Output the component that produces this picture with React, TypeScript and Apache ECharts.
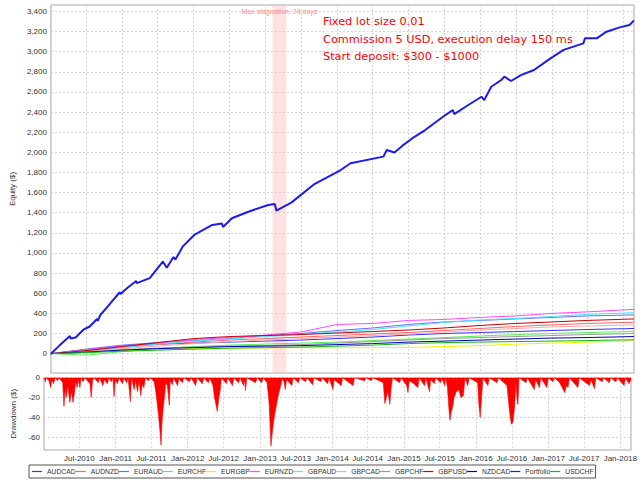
import React, { useEffect, useRef } from "react";
import * as echarts from "echarts";

// ---- data ----
const pairNames = [
  "AUDCAD", "AUDNZD", "EURAUD", "EURCHF", "EURGBP", "EURNZD", "GBPAUD",
  "GBPCAD", "GBPCHF", "GBPUSD", "NZDCAD", "Portfolio", "USDCHF",
];

const sampleDates = [
  "2010-01-03", "2010-07-01", "2011-01-01", "2011-07-01", "2012-01-01", "2012-07-01",
  "2013-01-01", "2013-07-01", "2014-01-01", "2014-07-01", "2015-01-01", "2015-07-01",
  "2016-01-01", "2016-07-01", "2017-01-01", "2017-07-01", "2018-02-24",
];

const audcad = [0, 40, 75, 95, 105, 115, 125, 135, 150, 165, 185, 200, 210, 220, 230, 240, 250];
const audnzd = [0, 35, 60, 90, 115, 135, 150, 165, 180, 195, 210, 230, 250, 270, 285, 300, 312];
const euraud = [0, 45, 85, 110, 130, 150, 180, 200, 230, 255, 290, 315, 330, 345, 360, 375, 385];
const eurchf = [0, -15, 20, 50, 70, 85, 95, 105, 115, 130, 145, 160, 175, 190, 200, 210, 220];
const eurgbp = [0, 15, 30, 40, 50, 55, 58, 60, 60, 60, 62, 70, 80, 95, 105, 115, 128];
const eurnzd = [0, 40, 75, 105, 140, 160, 185, 215, 290, 300, 330, 340, 360, 375, 400, 415, 440];
const gbpaud = [0, 30, 60, 95, 125, 145, 170, 190, 215, 240, 275, 310, 335, 350, 370, 390, 407];
const gbpcad = [0, 25, 50, 75, 100, 120, 135, 150, 165, 180, 195, 215, 235, 250, 265, 275, 285];
const gbpchf = [0, 20, 40, 55, 65, 75, 80, 90, 105, 120, 135, 150, 160, 170, 180, 190, 200];
const gbpusd = [0, 30, 70, 110, 150, 170, 180, 190, 205, 220, 235, 255, 280, 300, 315, 330, 345];
const nzdcad = [0, 15, 35, 50, 60, 70, 75, 80, 90, 100, 115, 125, 135, 145, 155, 160, 170];
const usdchf = [0, 10, 25, 35, 45, 55, 60, 65, 75, 85, 100, 110, 115, 120, 125, 130, 138];

const portfolio: [string, number][] = [
  ["2010-01-03", 0], ["2010-02-15", 80], ["2010-04-10", 175], ["2010-04-14", 150], ["2010-05-09", 160],
  ["2010-06-20", 242], ["2010-07-20", 270], ["2010-08-26", 345], ["2010-08-30", 326], ["2010-09-12", 384],
  ["2010-10-20", 470], ["2010-12-20", 610], ["2010-12-24", 592], ["2011-02-01", 660],
  ["2011-03-14", 722], ["2011-03-17", 700], ["2011-05-22", 750],
  ["2011-07-28", 914], ["2011-08-17", 854], ["2011-09-20", 960], ["2011-09-30", 935], ["2011-11-06", 1063],
  ["2012-01-04", 1179], ["2012-04-05", 1278], ["2012-05-24", 1292], ["2012-05-30", 1258], ["2012-07-14", 1345],
  ["2012-10-06", 1410], ["2013-01-15", 1477], ["2013-02-18", 1487], ["2013-02-26", 1420],
  ["2013-05-13", 1500], ["2013-09-08", 1685], ["2014-01-20", 1824], ["2014-03-11", 1891],
  ["2014-08-26", 1957], ["2014-09-12", 2023], ["2014-10-21", 1998], ["2014-12-01", 2066],
  ["2015-01-21", 2140], ["2015-03-27", 2221], ["2015-07-08", 2370], ["2015-08-15", 2420], ["2015-08-22", 2380],
  ["2015-11-02", 2470], ["2016-01-08", 2552], ["2016-01-22", 2519], ["2016-02-27", 2651],
  ["2016-04-18", 2718], ["2016-05-04", 2751], ["2016-06-07", 2708], ["2016-07-27", 2767],
  ["2016-10-02", 2817], ["2016-12-25", 2933], ["2017-03-02", 3017], ["2017-06-11", 3082],
  ["2017-06-19", 3132], ["2017-08-18", 3132], ["2017-10-07", 3198], ["2017-12-13", 3241],
  ["2018-02-01", 3264], ["2018-02-24", 3310],
];

const drawdown: [string, number][] = [
  ["2010-01-03", 0], ["2010-01-10", -4], ["2010-01-14", 0], ["2010-01-28", -3], ["2010-02-06", -10],
  ["2010-02-12", -2], ["2010-02-20", -6], ["2010-03-01", 0], ["2010-03-12", -3], ["2010-03-20", 0],
  ["2010-04-08", -5], ["2010-04-14", -29], ["2010-04-20", -12], ["2010-04-26", -20], ["2010-05-04", -8],
  ["2010-05-14", -25], ["2010-05-22", -14], ["2010-05-30", -25], ["2010-06-06", -16], ["2010-06-12", -4],
  ["2010-06-20", -10], ["2010-06-26", -2], ["2010-07-04", -10], ["2010-07-10", 0],
  ["2010-07-20", -4], ["2010-07-28", 0], ["2010-08-24", -6], ["2010-08-30", -20], ["2010-09-06", -3],
  ["2010-09-14", 0], ["2010-10-05", -5], ["2010-10-12", 0], ["2010-10-28", -8], ["2010-11-05", -2],
  ["2010-11-20", -6], ["2010-11-28", 0], ["2010-12-10", -4], ["2010-12-18", 0], ["2010-12-24", -19],
  ["2010-12-30", -2], ["2011-01-10", -6], ["2011-01-18", 0], ["2011-02-05", -6], ["2011-02-12", 0],
  ["2011-02-25", -5], ["2011-03-05", 0], ["2011-03-17", -24], ["2011-03-22", 0],
  ["2011-04-05", -12], ["2011-04-12", -3], ["2011-04-22", -14], ["2011-04-30", -2], ["2011-05-08", -18],
  ["2011-05-16", -6], ["2011-05-24", -10], ["2011-06-01", 0], ["2011-06-15", -3], ["2011-06-25", 0],
  ["2011-07-15", -4], ["2011-07-22", -12], ["2011-07-30", -25], ["2011-08-07", -40], ["2011-08-14", -55],
  ["2011-08-19", -68], ["2011-08-24", -45], ["2011-08-30", -30], ["2011-09-06", -18], ["2011-09-12", -5],
  ["2011-09-20", -8], ["2011-09-30", -28], ["2011-10-04", -3], ["2011-10-15", -7], ["2011-10-22", 0],
  ["2011-11-10", -8], ["2011-11-18", -1], ["2011-12-05", -5], ["2011-12-12", 0],
  ["2012-01-10", -4], ["2012-01-18", 0], ["2012-02-10", -8], ["2012-02-18", 0], ["2012-03-15", -6],
  ["2012-03-22", 0], ["2012-04-15", -5], ["2012-04-22", 0], ["2012-05-08", -8], ["2012-05-16", -20],
  ["2012-05-24", -28], ["2012-05-30", -34], ["2012-06-06", -22], ["2012-06-14", -12], ["2012-06-20", 0],
  ["2012-07-15", -6], ["2012-07-22", 0], ["2012-08-15", -8], ["2012-08-22", 0], ["2012-09-15", -5],
  ["2012-09-22", 0], ["2012-10-10", -8], ["2012-10-15", -2], ["2012-10-20", -13], ["2012-10-26", 0],
  ["2012-12-10", -5], ["2012-12-18", 0], ["2013-01-10", -5], ["2013-01-18", 0],
  ["2013-02-06", -5], ["2013-02-14", -20], ["2013-02-18", -30], ["2013-02-22", -52], ["2013-02-26", -69],
  ["2013-03-02", -60], ["2013-03-08", -50], ["2013-03-16", -38], ["2013-03-28", -25], ["2013-04-06", -16],
  ["2013-04-14", -10], ["2013-04-26", 0], ["2013-05-05", -6], ["2013-05-09", -12], ["2013-05-16", -2],
  ["2013-06-12", -8], ["2013-06-18", 0], ["2013-07-15", -5], ["2013-07-22", 0], ["2013-08-20", -4],
  ["2013-08-27", 0], ["2013-09-25", -7], ["2013-10-02", 0], ["2013-11-05", -4], ["2013-11-12", 0],
  ["2013-12-10", -6], ["2013-12-17", 0], ["2014-01-06", -12], ["2014-01-12", -2], ["2014-02-17", -8],
  ["2014-02-24", 0], ["2014-04-18", -8], ["2014-04-25", 0], ["2014-06-15", -3], ["2014-06-22", 0],
  ["2014-07-20", -3], ["2014-07-27", 0], ["2014-09-18", -5], ["2014-09-26", -26], ["2014-10-04", -20],
  ["2014-10-12", -14], ["2014-10-21", -27], ["2014-10-28", -10], ["2014-11-04", 0],
  ["2014-12-10", -5], ["2014-12-17", 0], ["2015-01-15", -8], ["2015-01-21", -15], ["2015-01-28", -3],
  ["2015-02-20", -6], ["2015-03-12", -10], ["2015-03-19", 0], ["2015-04-15", -8], ["2015-04-22", 0],
  ["2015-05-10", -14], ["2015-05-16", -2], ["2015-06-04", -6], ["2015-06-10", 0], ["2015-07-05", -5],
  ["2015-07-12", 0], ["2015-07-25", -8], ["2015-08-01", 0], ["2015-08-09", -10], ["2015-08-16", -30],
  ["2015-08-22", -43], ["2015-08-28", -35], ["2015-09-04", -30], ["2015-09-12", -20], ["2015-09-21", -15],
  ["2015-10-05", -12], ["2015-10-17", -20], ["2015-10-29", -18], ["2015-11-06", 0], ["2015-11-20", -8],
  ["2015-11-27", 0], ["2016-01-09", -5], ["2016-01-16", -28], ["2016-01-22", -40], ["2016-01-29", -20],
  ["2016-02-05", 0], ["2016-03-01", -8], ["2016-03-08", 0], ["2016-04-16", -5], ["2016-04-23", 0],
  ["2016-06-06", -8], ["2016-06-14", -25], ["2016-06-21", -38], ["2016-06-28", -47], ["2016-07-06", -45],
  ["2016-07-14", -30], ["2016-07-21", -5], ["2016-07-26", -20], ["2016-07-31", -27], ["2016-08-06", 0],
  ["2016-09-10", -5], ["2016-09-17", 0], ["2016-10-22", -12], ["2016-10-29", -2], ["2016-11-17", -10],
  ["2016-11-24", 0], ["2016-12-25", -10], ["2017-01-01", 0], ["2017-01-25", -4], ["2017-02-01", 0],
  ["2017-02-28", -5], ["2017-03-10", -9], ["2017-03-25", -15], ["2017-04-03", -8], ["2017-04-11", -10],
  ["2017-04-18", 0], ["2017-05-31", -10], ["2017-06-07", 0], ["2017-07-29", -8], ["2017-08-05", -2],
  ["2017-08-23", -11], ["2017-08-30", 0], ["2017-10-01", -4], ["2017-10-08", 0], ["2017-11-06", -5],
  ["2017-11-13", 0], ["2017-12-10", -4], ["2017-12-17", 0], ["2018-01-20", -8], ["2018-01-27", 0],
  ["2018-02-14", -6], ["2018-02-24", -2],
];

const stagnation = ["2013-02-06", "2013-04-18"];
const stagnationLabel = "Max stagnation: 74 days";
const annotationLines = [
  "Fixed lot size 0.01",
  "Commission 5 USD, execution delay 150 ms",
  "Start deposit: $300 - $1000",
];
const xRange = ["2010-01-03", "2018-02-24"];
const MONTHS = ["Jan", "Feb", "Mar", "Apr", "May", "Jun", "Jul", "Aug", "Sep", "Oct", "Nov", "Dec"];

// ---- styles ----
const pairColors: Record<string, string> = {
  AUDCAD: "#3434ff", AUDNZD: "#ff6464", EURAUD: "#6a6aff", EURCHF: "#55ee55",
  EURGBP: "#f4f400", EURNZD: "#ff48ff", GBPAUD: "#48e8ff", GBPCAD: "#ffa8a8",
  GBPCHF: "#999999", GBPUSD: "#c80000", NZDCAD: "#0000b4", Portfolio: "#1c1cee",
  USDCHF: "#14b814",
};
const pairValues: Record<string, number[]> = {
  AUDCAD: audcad, AUDNZD: audnzd, EURAUD: euraud, EURCHF: eurchf, EURGBP: eurgbp,
  EURNZD: eurnzd, GBPAUD: gbpaud, GBPCAD: gbpcad, GBPCHF: gbpchf, GBPUSD: gbpusd,
  NZDCAD: nzdcad, USDCHF: usdchf,
};

const gridLine = { lineStyle: { color: "#d4d4d4", type: [2, 2] as number[], width: 1 } };
const labelFont = { fontFamily: "Liberation Sans, Arial, sans-serif", color: "#333" };

function fmtDate(v: number) {
  const d = new Date(v);
  const m = d.getMonth();
  if (d.getDate() !== 1 || (m !== 0 && m !== 6)) return "";
  return MONTHS[m] + "-" + d.getFullYear();
}

export default function App() {
  const ref = useRef<HTMLDivElement>(null);
  useEffect(() => {
    document.body.style.margin = "0";
    if (!ref.current) return;
    const chart = echarts.init(ref.current, null, { renderer: "svg" });

    const pairSeries = pairNames
      .filter((n) => n !== "Portfolio")
      .map((name, i) => ({
        name,
        type: "line",
        xAxisIndex: 0,
        yAxisIndex: 0,
        symbol: "none",
        z: 3,
        lineStyle: { width: 1, color: pairColors[name] },
        itemStyle: { color: pairColors[name] },
        data: sampleDates.map((d, k) => [d, pairValues[name][k]]),
        ...(i === 0
          ? {
              markArea: {
                silent: true,
                itemStyle: { color: "rgba(255,190,190,0.45)" },
                label: {
                  show: true,
                  position: "insideTop",
                  distance: 3,
                  formatter: stagnationLabel,
                  fontSize: 7,
                  color: "#ff8c8c",
                  fontFamily: "Liberation Sans, Arial, sans-serif",
                },
                data: [[{ xAxis: stagnation[0] }, { xAxis: stagnation[1] }]],
              },
            }
          : {}),
      }));

    const option: any = {
      animation: false,
      backgroundColor: "#ffffff",
      grid: [
        { left: 44, right: 6, top: 5, height: 368, show: true, borderColor: "#a8a8a8", borderWidth: 1, backgroundColor: "transparent" },
        { left: 44, right: 6, top: 377.7, height: 72.3, show: true, borderColor: "#a8a8a8", borderWidth: 1, backgroundColor: "transparent" },
      ],
      xAxis: [
        {
          type: "time", gridIndex: 0, min: xRange[0], max: xRange[1],
          minInterval: 86400000 * 182.5, maxInterval: 86400000 * 182.5,
          axisLine: { show: false }, axisTick: { show: false }, axisLabel: { show: false },
          splitLine: { show: true, ...gridLine },
        },
        {
          type: "time", gridIndex: 1, min: xRange[0], max: xRange[1],
          minInterval: 86400000 * 182.5, maxInterval: 86400000 * 182.5,
          axisLine: { show: false }, axisTick: { show: false },
          axisLabel: { show: true, formatter: fmtDate, fontSize: 8, margin: 4, hideOverlap: false, ...labelFont },
          splitLine: { show: true, ...gridLine },
        },
      ],
      yAxis: [
        {
          type: "value", gridIndex: 0, min: -192, max: 3463, splitNumber: 17,
          name: "Equity ($)", nameLocation: "middle", nameGap: 27,
          nameTextStyle: { fontSize: 8, ...labelFont },
          axisLine: { show: false }, axisTick: { show: false },
          axisLabel: {
            fontSize: 8, margin: 4, ...labelFont,
            formatter: (v: number) => (v >= 0 && v % 200 === 0 ? v.toLocaleString("en-US") : ""),
          },
          splitLine: { show: true, ...gridLine },
        },
        {
          type: "value", gridIndex: 1, min: -73, max: 0, splitNumber: 4,
          name: "Drawdown ($)", nameLocation: "middle", nameGap: 18,
          nameTextStyle: { fontSize: 8, ...labelFont },
          axisLine: { show: false }, axisTick: { show: false },
          axisLabel: {
            fontSize: 8, margin: 4, ...labelFont,
            formatter: (v: number) => (v % 20 === 0 ? String(v) : ""),
          },
          splitLine: { show: true, ...gridLine },
        },
      ],
      legend: {
        data: pairNames,
        left: 29,
        top: 465,
        orient: "horizontal",
        icon: "rect",
        itemWidth: 10,
        itemHeight: 1.2,
        itemGap: 0,
        padding: [3, 2, 3, 3],
        borderColor: "#555",
        borderWidth: 1,
        selectedMode: false,
        textStyle: { fontSize: 6.8, color: "#333", fontFamily: "Liberation Sans, Arial, sans-serif" },
      },
      graphic: annotationLines.map((t, i) => ({
        type: "text",
        x: 323,
        y: 21.5 + i * 17.5,
        z: 100,
        style: {
          text: t,
          fill: "#ff0000",
          fontSize: 11.3,
          fontFamily: "DejaVu Sans",
          verticalAlign: "middle",
        },
      })),
      series: [
        ...pairSeries,
        {
          name: "Portfolio",
          type: "line",
          xAxisIndex: 0,
          yAxisIndex: 0,
          symbol: "none",
          z: 4,
          lineStyle: { width: 2, color: pairColors.Portfolio },
          itemStyle: { color: pairColors.Portfolio },
          data: portfolio,
        },
        {
          name: "Drawdown",
          type: "line",
          xAxisIndex: 1,
          yAxisIndex: 1,
          symbol: "none",
          lineStyle: { width: 0.6, color: "#ff0000" },
          itemStyle: { color: "#ff0000" },
          areaStyle: { color: "#ff0000", opacity: 1 },
          data: drawdown,
        },
      ],
    };
    chart.setOption(option);
    return () => chart.dispose();
  }, []);
  return <div ref={ref} style={{ position: "absolute", left: 0, top: 0, width: 640, height: 480 }} />;
}
